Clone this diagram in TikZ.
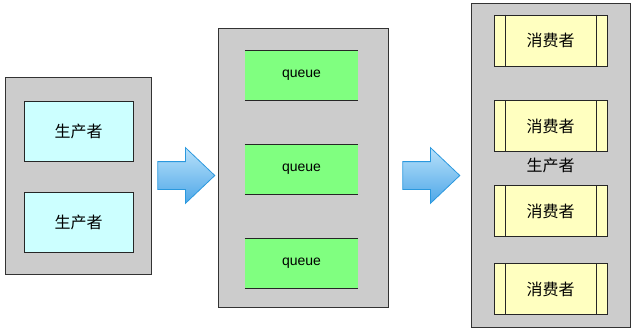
\documentclass[tikz,border=0pt]{standalone}
\usepackage{fontspec}
\setmainfont{Liberation Sans}
\newfontfamily\cjk{Noto Sans CJK SC}
\usepackage{tikz}
\usetikzlibrary{positioning, shapes.arrows, shadows}
\definecolor{grau}{HTML}{CCCCCC}
\definecolor{tuerkis}{HTML}{CCFFFF}
\definecolor{gruen}{HTML}{80FF80}
\definecolor{gelb}{HTML}{FFFFC0}
\definecolor{pfeilrand}{HTML}{2A98DE}
\definecolor{pfeilhell}{HTML}{B8E0FA}
\definecolor{pfeildunkel}{HTML}{4EA8E8}
\tikzset{
    huelle/.style      = {draw=black!80, fill=grau, line width=0.8pt, inner sep=0pt,
                          drop shadow={opacity=0.25, shadow xshift=1pt, shadow yshift=-1pt}},
    kasten/.style      = {inner sep=0pt, font=\cjk\fontsize{16}{19}\selectfont},
    erzeuger/.style    = {kasten, draw=black!85, fill=tuerkis, line width=0.9pt,
                          minimum width=109pt, minimum height=60pt},
    schlange/.style    = {kasten, fill=gruen, minimum width=113pt, minimum height=49pt,
                          font=\fontsize{14}{17}\selectfont},
    verbraucher/.style = {kasten, draw=black!85, fill=gelb, line width=0.9pt,
                          minimum width=113pt, minimum height=51pt},
    kante/.style       = {draw=black!85, line width=0.9pt},
    pfeil/.style       = {single arrow, draw=pfeilrand, line width=0.8pt,
                          top color=pfeilhell, bottom color=pfeildunkel,
                          minimum height=57pt, inner xsep=0pt, inner ysep=13.5pt,
                          single arrow head extend=14pt, single arrow tip angle=87,
                          anchor=west}
}
\begin{document}
\begin{tikzpicture}[x=1pt, y=-1pt]
        \useasboundingbox (0,0) rectangle (636,335);

        % Huellen
        \node[huelle, minimum width=146pt, minimum height=197pt] (links)  at (78,175.5)  {};
        \node[huelle, minimum width=170pt, minimum height=279pt] (mitte)  at (303,167.5) {};
        \node[huelle, minimum width=159pt, minimum height=324pt] (rechts) at (550.5,165) {};

        % Erzeuger
        \node[erzeuger] (e1) at (78.5,131)   {生产者};
        \node[erzeuger] (e2) at (78.5,222.5) {生产者};

        % Warteschlangen: nur oben und unten eine Kante
        \foreach \y/\n in {75.5/1, 169.5/2, 263.5/3} {
            \node[schlange] (q\n) at (301.5,\y) {queue};
            \draw[kante] (q\n.north west) -- (q\n.north east)
                         (q\n.south west) -- (q\n.south east);
        }

        % Verbraucher mit seitlichen Streifen
        \foreach \y/\n in {40.5/1, 126/2, 211/3, 289/4} {
            \node[verbraucher] (v\n) at (550.5,\y) {消费者};
            \draw[kante] ([xshift=12pt]v\n.north west) -- ([xshift=12pt]v\n.south west)
                         ([xshift=-11pt]v\n.north east) -- ([xshift=-11pt]v\n.south east);
        }
        \node[kasten] (titel) at (550.5,165) {生产者};

        % Pfeile zwischen den Huellen
        \node[pfeil] (p1) at ([xshift=6pt]links.east) {};
        \node[pfeil] (p2) at ([xshift=14pt]mitte.east |- links.east) {};
    \end{tikzpicture}
\end{document}
